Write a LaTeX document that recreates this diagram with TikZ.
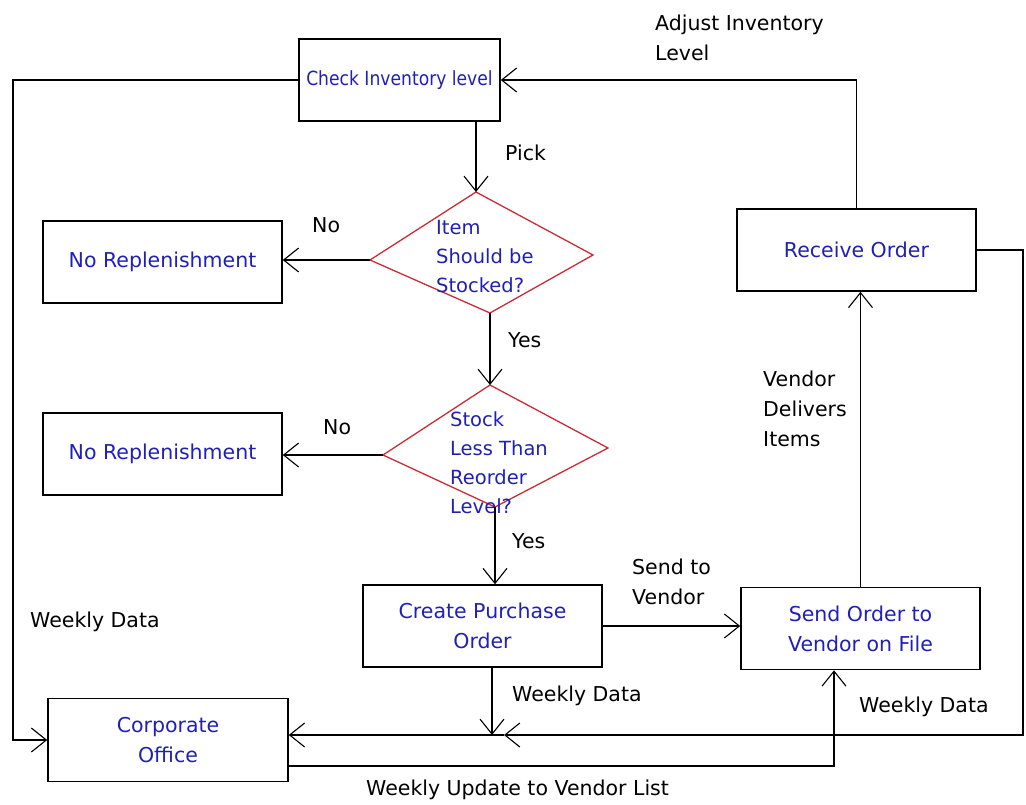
\documentclass[tikz,border=0pt]{standalone}
\usepackage{fontspec}
\setmainfont{DejaVu Sans}
\newfontfamily\narrowsans{DejaVu Sans}[FakeStretch=0.88]
\usetikzlibrary{arrows.meta}
\definecolor{boxtext}{RGB}{32,32,180}
\definecolor{decline}{RGB}{200,45,55}
\tikzset{
  every node/.style={font=\fontsize{20.5}{30}\selectfont},
  procbox/.style={draw=black, line width=1.6pt, minimum width=239pt, minimum height=82pt,
    text=boxtext, align=center, inner sep=1pt},
  flow/.style={draw=black, line width=1.6pt},
  arr/.style={flow, -{Straight Barb[length=15pt,width=24pt,line width=1.1pt]}},
  decision/.style={draw=decline, line width=1.3pt},
  dtext/.style={text=boxtext, align=left, anchor=west, inner sep=0pt,
    font=\fontsize{19.5}{29}\selectfont},
  lbl/.style={text=black, align=left, anchor=west, inner sep=0pt},
}
\begin{document}
\begin{tikzpicture}[x=1pt,y=-1pt]
\useasboundingbox (0,0) rectangle (1026,805);

% process boxes
\node[procbox, minimum width=201pt, font=\narrowsans\fontsize{19.5}{30}\selectfont] (ci) at (399.5,80) {Check Inventory level};
\node[procbox] (nr1) at (162.5,262) {No Replenishment};
\node[procbox] (nr2) at (162.5,454) {No Replenishment};
\node[procbox] (cpo) at (482.5,626) {Create Purchase\\Order};
\node[procbox] (so)  at (860.5,628.5) {Send Order to\\Vendor on File};
\node[procbox] (ro)  at (856.5,250) {Receive Order};
\node[procbox, minimum width=240pt, minimum height=83pt] (co) at (168,740) {Corporate\\Office};

% decision diamonds (hand-drawn, slightly skewed)
\coordinate (d1t) at (476,192);
\coordinate (d1r) at (593,255);
\coordinate (d1b) at (490,313);
\coordinate (d1l) at (370,260);
\draw[decision] (d1t) -- (d1r) -- (d1b) -- (d1l) -- cycle;
\node[dtext] (d1) at (436,257) {Item\\Should be\\Stocked?};

\coordinate (d2t) at (490,385);
\coordinate (d2r) at (608,448);
\coordinate (d2b) at (495,507);
\coordinate (d2l) at (383,455);
\draw[decision] (d2t) -- (d2r) -- (d2b) -- (d2l) -- cycle;
\node[dtext] (d2) at (450,463) {Stock\\Less Than\\Reorder\\Level?};

% routing points
\coordinate (lft)  at (13,400);
\coordinate (rbus) at (1023,735);
\coordinate (wk)   at (504,735);
\coordinate (jn)   at (492,735);
\coordinate (bt)   at (834,766);

% connectors
\draw[arr] (ci.south -| d1t) -- (d1t);
\draw[arr] (d1l) -- (d1l -| nr1.east);
\draw[arr] (d1b) -- (d1b |- d2t);
\draw[arr] (d2l) -- (d2l -| nr2.east);
\draw[arr] (d2b) -- (d2b |- cpo.north);
\draw[arr] (cpo.east) -- (cpo.east -| so.west);
\draw[arr] (so.north) -- (so.north |- ro.south);
\draw[arr] (ro.north) |- (ci.east);
\draw[arr] (ci.west) -| (lft) |- (co.west);
\draw[arr] (ro.east) -| (rbus) -- (wk);
\draw[arr] (wk) -- (co.east |- wk);
\draw[arr] (cpo.south -| jn) -- (jn);
\draw[arr] (co.east |- bt) -- (bt) -- (bt |- so.south);

% connector labels
\node[lbl] (pick) at (505,153) {Pick};
\node[lbl] (no1)  at (312,225) {No};
\node[lbl] (no2)  at (323,427) {No};
\node[lbl] (yes1) at (508,340) {Yes};
\node[lbl] (yes2) at (512,541) {Yes};
\node[lbl] (adj)  at (655,38)  {Adjust Inventory\\Level};
\node[lbl] (vdi)  at (763,409) {Vendor\\Delivers\\Items};
\node[lbl] (stv)  at (632,582) {Send to\\Vendor};
\node[lbl] (wdl)  at (30,622)  {Weekly Data};
\node[lbl] (wdm)  at (512,696) {Weekly Data};
\node[lbl] (wdr)  at (859,707) {Weekly Data};
\node[lbl] (wuv)  at (366,790) {Weekly Update to Vendor List};
\end{tikzpicture}
\end{document}
